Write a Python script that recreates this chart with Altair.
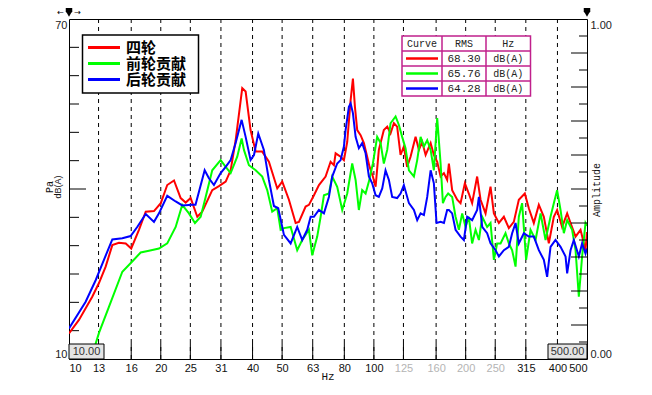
import json
import altair as alt
import pandas as pd

# ---------------- axis / annotation values ----------------
freq_ticks = [10, 12.5, 16, 20, 25, 31.5, 40, 50, 63, 80, 100, 125, 160, 200, 250, 315, 400, 500]
freq_labels = ["10", "13", "16", "20", "25", "31", "40", "50", "63", "80", "100", "125", "160", "200", "250", "315", "400", "500"]
db_minor_ticks = [15, 20, 25, 30, 35, 45, 50, 55, 60, 65]
db_major_ticks = [40]
amp_minor_ticks = [0.05, 0.15, 0.25, 0.35, 0.45, 0.55, 0.65, 0.75, 0.85, 0.95]
amp_major_ticks = [0.1, 0.2, 0.3, 0.4, 0.5, 0.6, 0.7, 0.8, 0.9]

curve_names = ["四轮", "前轮贡献", "后轮贡献"]
curve_colors = ["#ff0000", "#00ff00", "#0000ff"]
rms_values = ["68.30", "65.76", "64.28"]
rms_units = ["dB(A)", "dB(A)", "dB(A)"]
table_header = ["Curve", "RMS", "Hz"]
cursor_labels = ["10.00", "500.00"]

# ---------------- series (Hz, dB(A)) ----------------
red_hz = [10.0, 10.78, 11.92, 12.54, 13.19, 13.87, 14.58, 15.35, 16.0, 16.96, 17.85, 19.0, 20.0, 21.0, 22.1,
          23.24, 24.14, 25.06, 26.35, 27.35, 29.5, 31.03, 32.65, 33.9, 35.2, 37.0, 37.96, 39.4, 40.95, 43.03,
          45.25, 48.2, 50.05, 52.64, 55.38, 56.78, 59.72, 61.23, 63.59, 66.03, 69.44, 72.11, 73.95, 74.9, 77.78,
          79.74, 81.76, 83.89, 85.35, 86.66, 88.17, 90.45, 92.73, 95.06, 96.8, 99.24, 101.3, 103.8, 107.8, 110.6,
          113.4, 116.3, 119.2, 122.3, 125.4, 128.5, 131.9, 137.0, 140.5, 144.0, 147.8, 153.5, 157.3, 161.3, 165.5,
          169.7, 173.9, 176.2, 180.6, 187.6, 192.4, 198.8, 204.8, 210.0, 218.1, 223.8, 232.4, 241.3, 247.5, 257.0,
          266.9, 277.1, 287.7, 298.8, 312.6, 322.2, 334.6, 347.5, 360.9, 374.8, 389.2, 399.0, 414.4, 430.4, 441.6,
          458.6, 476.2, 494.4, 500.0]
red_db = [14.5, 16.9, 21.0, 23.4, 26.3, 30.1, 30.5, 30.4, 29.5, 32.8, 36.0, 36.1, 37.5, 40.7, 41.5,
          38.4, 37.6, 38.4, 35.1, 36.0, 39.8, 40.5, 41.3, 43.3, 48.6, 57.8, 57.2, 50.4, 46.6, 46.6,
          44.8, 40.1, 41.3, 38.1, 34.0, 34.2, 36.9, 37.2, 38.9, 40.7, 42.2, 44.8, 44.2, 46.3, 45.7,
          45.1, 48.3, 55.7, 59.5, 54.5, 50.4, 49.5, 48.1, 45.7, 43.9, 42.2, 40.4, 46.9, 50.4, 51.0,
          49.8, 51.6, 51.0, 46.0, 47.5, 43.9, 45.7, 49.2, 46.9, 48.3, 46.0, 48.1, 46.0, 44.8, 42.2,
          42.8, 41.6, 44.5, 39.8, 38.1, 37.5, 41.0, 39.2, 37.5, 42.2, 38.1, 35.7, 40.4, 35.7, 34.0,
          35.1, 33.1, 34.2, 38.1, 39.2, 36.6, 34.0, 37.2, 35.1, 30.4, 35.1, 36.3, 33.3, 35.7, 34.0,
          31.6, 32.8, 29.2, 32.4]

green_hz = [11.8, 12.54, 13.52, 14.96, 16.12, 17.18, 18.29, 19.73, 21.0, 22.38, 23.52, 24.74, 25.89, 27.03, 28.07,
            29.5, 31.43, 32.65, 33.9, 35.63, 36.83, 37.48, 38.92, 40.95, 43.03, 44.68, 46.4, 48.2, 49.44, 50.7,
            53.33, 56.04, 58.2, 61.23, 62.77, 65.18, 66.88, 68.57, 71.2, 73.0, 75.8, 78.74, 81.76, 84.9, 87.1,
            89.27, 91.52, 93.93, 96.3, 99.24, 102.5, 105.2, 107.8, 110.6, 113.4, 117.8, 120.8, 123.8, 127.0, 130.3,
            135.3, 138.7, 142.3, 145.9, 149.6, 153.5, 157.3, 161.3, 165.5, 168.4, 171.8, 175.2, 180.6, 185.3, 190.0,
            194.8, 199.8, 204.8, 210.0, 215.5, 221.0, 226.6, 235.2, 241.3, 247.5, 253.7, 260.3, 270.2, 277.1, 284.1,
            291.5, 298.8, 306.3, 315.7, 326.4, 339.0, 352.1, 365.6, 379.6, 389.2, 399.0, 409.4, 419.8, 430.4, 446.8,
            458.6, 470.1, 481.9, 494.4, 500.0]
green_db = [10.0, 14.6, 19.2, 25.4, 27.2, 28.8, 29.1, 29.5, 30.4, 33.3, 37.2, 35.7, 34.0, 35.1, 38.6,
            43.3, 45.1, 43.9, 42.8, 45.7, 48.9, 46.9, 44.2, 43.3, 42.2, 39.8, 36.0, 36.6, 32.8, 33.1,
            33.3, 29.2, 31.0, 32.8, 28.3, 31.6, 35.1, 38.9, 39.2, 42.2, 40.4, 36.3, 39.2, 44.5, 41.6,
            36.3, 39.8, 39.2, 41.3, 44.5, 49.2, 48.1, 44.5, 46.9, 51.6, 52.8, 51.3, 49.2, 47.2, 43.3,
            42.2, 45.1, 49.2, 47.5, 48.6, 46.9, 43.3, 52.5, 44.5, 37.5, 38.6, 39.2, 38.6, 35.1, 32.8,
            35.7, 33.3, 35.1, 30.4, 32.8, 31.0, 35.1, 33.3, 34.0, 27.5, 30.4, 30.4, 32.2, 30.4, 29.2,
            26.3, 35.1, 37.5, 27.5, 32.8, 31.0, 35.7, 31.0, 35.1, 37.5, 39.8, 36.3, 32.2, 34.5, 32.8,
            29.2, 21.0, 28.1, 34.0, 33.5]

blue_hz = [10.0, 11.34, 12.23, 13.02, 13.87, 14.96, 15.93, 16.74, 17.85, 19.0, 19.73, 21.0, 22.38, 23.52, 25.37,
           26.0, 27.86, 28.77, 29.88, 31.43, 32.65, 33.9, 35.2, 36.83, 37.96, 39.4, 40.43, 41.76, 43.57, 45.25,
           47.0, 48.56, 50.7, 53.33, 56.04, 58.2, 60.45, 62.03, 63.59, 66.03, 68.57, 71.2, 73.0, 75.8, 77.78,
           79.74, 80.75, 82.79, 83.89, 85.35, 87.1, 89.27, 91.52, 93.93, 96.3, 98.72, 101.3, 103.8, 106.5, 109.2,
           112.0, 114.8, 119.2, 122.3, 125.4, 130.3, 135.3, 138.7, 142.3, 145.9, 149.6, 153.5, 157.3, 160.5, 165.5,
           169.7, 173.9, 176.2, 180.6, 185.3, 192.4, 197.3, 202.3, 210.0, 218.1, 221.0, 226.6, 235.2, 241.3, 250.6,
           257.0, 266.9, 277.1, 284.1, 291.5, 298.8, 310.3, 322.2, 334.6, 347.5, 360.9, 370.0, 379.6, 394.1, 409.4,
           425.2, 430.4, 441.6, 452.6, 470.1, 481.9, 494.4, 500.0]
blue_db = [15.4, 20.1, 23.9, 27.5, 31.1, 31.3, 31.7, 33.3, 35.6, 34.2, 35.7, 38.8, 37.8, 37.1, 37.2,
           37.2, 43.3, 41.9, 40.7, 42.8, 43.9, 45.1, 48.1, 52.2, 49.2, 45.1, 46.0, 49.8, 46.9, 41.6,
           37.0, 36.6, 31.9, 30.4, 33.3, 31.0, 32.8, 35.1, 35.1, 36.3, 35.7, 38.6, 42.2, 44.5, 45.1,
           47.5, 50.4, 54.5, 55.1, 53.4, 49.2, 47.2, 48.1, 46.3, 42.2, 41.0, 38.9, 38.6, 40.1, 43.3,
           41.6, 38.6, 38.4, 39.2, 40.7, 37.5, 36.3, 34.5, 35.7, 35.4, 38.6, 43.3, 41.0, 34.0, 34.2,
           34.0, 36.3, 36.3, 35.7, 32.8, 31.6, 31.0, 35.1, 34.5, 36.3, 38.6, 33.3, 32.2, 30.4, 29.2,
           28.1, 29.2, 29.8, 32.2, 34.0, 30.4, 32.2, 31.6, 31.6, 29.2, 27.5, 24.5, 29.8, 31.0, 29.8,
           28.1, 25.1, 29.2, 31.0, 28.1, 30.4, 28.6, 29.5]

series_hz = [red_hz, green_hz, blue_hz]
series_db = [red_db, green_db, blue_db]

W, H = 518, 340
INK = "#000000"

x_enc = alt.X(
    "f:Q",
    scale=alt.Scale(type="log", domain=[10, 500], nice=False),
    axis=alt.Axis(
        values=freq_ticks,
        labelExpr=json.dumps(freq_labels) + "[indexof(" + json.dumps(freq_ticks) + ", datum.value)]",
        ticks=False, domain=False, grid=False, labelFlush=True, labelPadding=3,
        labelFont="Liberation Sans", labelFontSize=11,
        labelColor={"condition": {"test": "datum.value >= 120 && datum.value <= 260", "value": "#b4b4b4"},
                    "value": "#111111"},
        title=None,
    ),
)
y_enc = alt.Y(
    "dB:Q",
    scale=alt.Scale(domain=[10, 70], nice=False, zero=False),
    axis=alt.Axis(orient="left", values=[10, 70], ticks=False, domain=False, grid=False,
                  labelFlush=True, labelPadding=2, labelFont="Liberation Sans", labelFontSize=11,
                  labelColor="#222222", title=None),
)
amp_enc = alt.Y(
    "amp:Q",
    scale=alt.Scale(domain=[0, 1], nice=False),
    axis=alt.Axis(orient="right", values=[0, 1], format=".2f", ticks=False, domain=False, grid=False,
                  labelFlush=True, labelPadding=3, labelFont="Liberation Sans", labelFontSize=11,
                  labelColor="#222222", title=None),
)

grid_df = pd.DataFrame({"f": freq_ticks[1:-1]})
grid = alt.Chart(grid_df).mark_rule(color=INK, strokeWidth=1, strokeDash=[4, 4]).encode(
    x=x_enc, y=alt.value(0), y2=alt.value(H))
bottom_ticks = alt.Chart(grid_df).mark_rule(color=INK, strokeWidth=1).encode(
    x=x_enc, y=alt.value(H - 16), y2=alt.value(H))
left_minor = alt.Chart(pd.DataFrame({"dB": db_minor_ticks})).mark_rule(color=INK).encode(
    y=y_enc, x=alt.value(0), x2=alt.value(10))
left_major = alt.Chart(pd.DataFrame({"dB": db_major_ticks})).mark_rule(color=INK).encode(
    y=y_enc, x=alt.value(0), x2=alt.value(17))

lines = []
for name, color, hz, db in zip(curve_names, curve_colors, series_hz, series_db):
    df = pd.DataFrame({"f": hz, "dB": db, "curve": name})
    lines.append(alt.Chart(df).mark_line(color=color, strokeWidth=2, clip=True).encode(x=x_enc, y=y_enc))

left_group = alt.layer(grid, bottom_ticks, left_minor, left_major, *lines)

right_minor = alt.Chart(pd.DataFrame({"amp": amp_minor_ticks})).mark_rule(color=INK).encode(
    y=amp_enc, x=alt.value(W - 8), x2=alt.value(W))
right_major = alt.Chart(pd.DataFrame({"amp": amp_major_ticks})).mark_rule(color=INK).encode(
    y=amp_enc, x=alt.value(W - 16), x2=alt.value(W))
right_group = alt.layer(right_minor, right_major)

# ---------------- annotation helpers ----------------
one = pd.DataFrame({"k": [0]})


def text(s, x, y, size=11, font="Liberation Sans", color="#111111", align="center",
         baseline="middle", angle=0, weight="normal"):
    return alt.Chart(one).mark_text(text=s, fontSize=size, font=font, color=color, align=align,
                                    baseline=baseline, angle=angle, fontWeight=weight).encode(
        x=alt.value(x), y=alt.value(y))


def box(x1, y1, x2, y2, fill="white", stroke=INK, sw=1.0):
    return alt.Chart(one).mark_rect(fill=fill, stroke=stroke, strokeWidth=sw).encode(
        x=alt.value(x1), x2=alt.value(x2), y=alt.value(y1), y2=alt.value(y2))


def seg(x1, y1, x2, y2, color=INK, sw=1.0):
    return alt.Chart(one).mark_rule(color=color, strokeWidth=sw).encode(
        x=alt.value(x1), x2=alt.value(x2), y=alt.value(y1), y2=alt.value(y2))


ann = []
# Chinese legend
ann.append(box(13.5, 16, 129.5, 74, sw=1.5))
for i, (name, color) in enumerate(zip(curve_names, curve_colors)):
    yy = 28.5 + 16 * i
    ann.append(seg(19, yy, 51, yy, color=color, sw=3))
    ann.append(text(name, 57, yy + 0.5, size=15, font="Noto Sans CJK SC", color="#000000",
                    align="left", weight="bold"))

# RMS table
MAG = "#c0208c"
tx0, tx1, tx2, tx3 = 333, 373, 417, 461.5
ty = [17, 32, 47, 62, 77]
ann.append(box(tx0, ty[0], tx3, ty[-1], stroke=MAG, sw=1.5))
for yy in ty[1:-1]:
    ann.append(seg(tx0, yy, tx3, yy, color=MAG, sw=1.5))
for xx in (tx1, tx2):
    ann.append(seg(xx, ty[0], xx, ty[-1], color=MAG, sw=1.5))
for label, cx in zip(table_header, [(tx0 + tx1) / 2, (tx1 + tx2) / 2, (tx2 + tx3) / 2]):
    ann.append(text(label, cx, (ty[0] + ty[1]) / 2, size=10, font="Liberation Mono", color="#222222"))
for i, (color, rms, unit) in enumerate(zip(curve_colors, rms_values, rms_units)):
    yy = (ty[i + 1] + ty[i + 2]) / 2
    ann.append(seg(tx0 + 4, yy, tx1 - 4, yy, color=color, sw=2.5))
    ann.append(text(rms, (tx1 + tx2) / 2, yy, size=11, font="Liberation Mono", color="#222222"))
    ann.append(text(unit, (tx2 + tx3) / 2, yy, size=10, font="Liberation Mono", color="#222222"))

# axis titles
ann.append(text("Pa", -19.5, 168, size=10, font="Liberation Mono", angle=270, color="#111111"))
ann.append(text("dB(A)", -11, 168, size=9, font="Liberation Sans", angle=270, color="#111111"))
ann.append(text("Amplitude", 528, 171, size=10, font="Liberation Mono", angle=270, color="#111111"))
ann.append(text("Hz", 259, 358, size=11, font="Liberation Mono", color="#111111"))

# cursor boxes at the bottom
ann.append(box(0, H - 15, 35, H, fill="#e4e4e4"))
ann.append(text(cursor_labels[0], 17.5, H - 7.5, size=11, color="#333333"))
ann.append(box(W - 39, H - 15, W, H, fill="#e4e4e4"))
ann.append(text(cursor_labels[1], W - 19.5, H - 7.5, size=11, color="#333333"))

# cursor markers at the top
for cx in (0, W):
    ann.append(box(cx - 3, -11, cx + 3, -7, fill=INK, stroke=INK, sw=0.5))
    ann.append(alt.Chart(one).mark_point(shape="triangle-down", filled=True, size=40, color=INK,
                                         opacity=1).encode(x=alt.value(cx), y=alt.value(-5)))
ann.append(text("←", -8.5, -6, size=8, font="DejaVu Sans", color="#000000"))
ann.append(text("→", 8.5, -6, size=8, font="DejaVu Sans", color="#000000"))

chart = alt.layer(left_group, right_group, *ann).resolve_scale(y="independent").properties(
    width=W, height=H,
    padding={"left": 61, "top": 11, "right": 57, "bottom": 24},
    autosize=alt.AutoSizeParams(type="none"),
    background="white",
).configure_view(stroke=INK, strokeWidth=1)

chart.save("out.html", embed_options={"renderer": "svg", "actions": False})
